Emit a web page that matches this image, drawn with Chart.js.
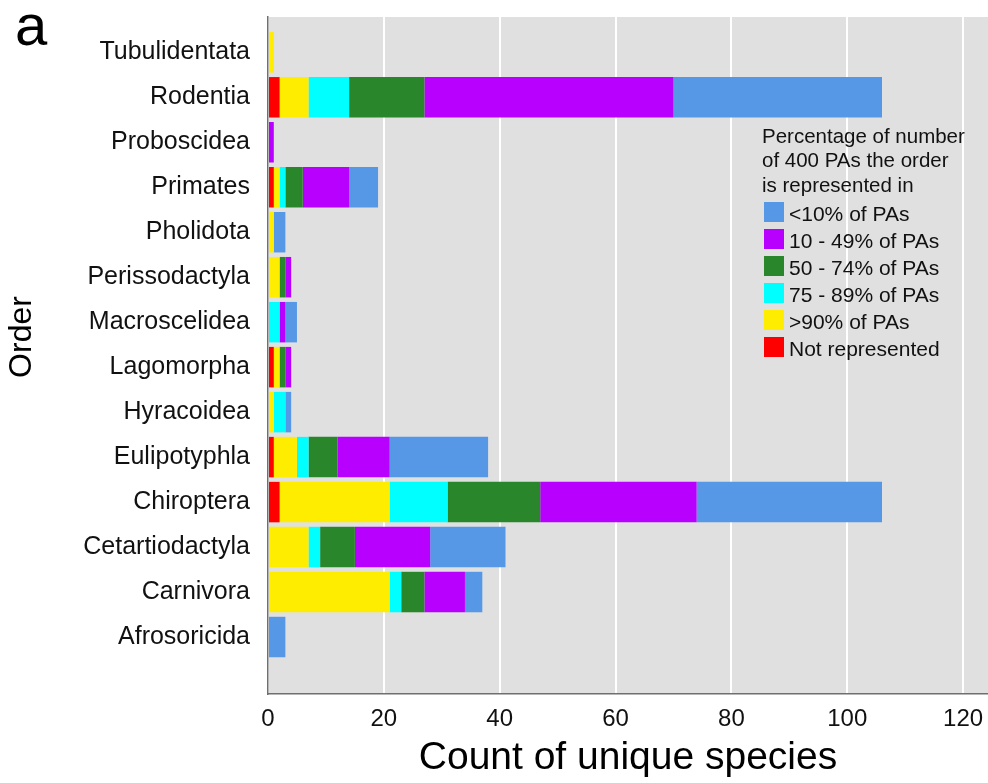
<!DOCTYPE html>
<html>
<head>
<meta charset="utf-8">
<script src="https://cdn.jsdelivr.net/npm/chart.js@4/dist/chart.umd.min.js"></script>
<style>
  html, body { margin: 0; padding: 0; background: #ffffff; }
  canvas { display: block; }
</style>
</head>
<body>
<canvas id="chart" width="988" height="783"></canvas>
<script>
// Mammal orders, listed top to bottom
const orders = ['Tubulidentata', 'Rodentia', 'Proboscidea', 'Primates', 'Pholidota',
  'Perissodactyla', 'Macroscelidea', 'Lagomorpha', 'Hyracoidea', 'Eulipotyphla',
  'Chiroptera', 'Cetartiodactyla', 'Carnivora', 'Afrosoricida'];

// Species counts per order, by share of the 400 PAs where the order occurs
const notRepresented = [0, 2, 0, 1, 0, 0, 0, 1, 0, 1, 2, 0, 0, 0];
const over90 = [1, 5, 0, 1, 1, 2, 0, 1, 1, 4, 19, 7, 21, 0];
const pct75to89 = [0, 7, 0, 1, 0, 0, 2, 0, 2, 2, 10, 2, 2, 0];
const pct50to74 = [0, 13, 0, 3, 0, 1, 0, 1, 0, 5, 16, 6, 4, 0];
const pct10to49 = [0, 43, 1, 8, 0, 1, 1, 1, 0, 9, 27, 13, 7, 0];
const under10 = [0, 36, 0, 5, 2, 0, 2, 0, 1, 17, 32, 13, 3, 3];

// Stack order, from the axis outwards
const seriesLabels = ['Not represented', '>90% of PAs', '75 - 89% of PAs', '50 - 74% of PAs', '10 - 49% of PAs', '<10% of PAs'];
const seriesValues = [notRepresented, over90, pct75to89, pct50to74, pct10to49, under10];
const seriesColors = ['#ff0000', '#ffed00', '#00ffff', '#2a862a', '#b800ff', '#5698e6'];

const xTicks = [0, 20, 40, 60, 80, 100, 120];
const legendTitle = ['Percentage of number', 'of 400 PAs the order', 'is represented in'];
const panelLetter = 'a';
const xTitle = 'Count of unique species';
const yTitle = 'Order';

const FONT = "'Liberation Sans', Arial, sans-serif";
const n = orders.length;
// top row sits at the highest y position
const rowPos = i => n - 1 - i;

const datasets = seriesLabels.map((label, s) => ({
  label,
  data: seriesValues[s].map((v, i) => ({ x: v, y: rowPos(i) })),
  backgroundColor: seriesColors[s],
  borderWidth: 0,
  categoryPercentage: 1,
  barPercentage: 0.9
}));

const panelDecor = {
  id: 'panelDecor',
  beforeDraw(chart) {
    const { ctx, chartArea: a } = chart;
    ctx.save();
    ctx.fillStyle = '#e0e0e0';
    ctx.fillRect(a.left, a.top, a.right - a.left, a.bottom - a.top);
    ctx.restore();
  },
  afterDraw(chart) {
    const { ctx } = chart;
    ctx.save();
    // panel letter
    ctx.fillStyle = '#000';
    ctx.font = `58px ${FONT}`;
    ctx.textAlign = 'left';
    ctx.textBaseline = 'alphabetic';
    ctx.fillText(panelLetter, 15, 45);

    // y axis title
    ctx.save();
    ctx.translate(22, 337);
    ctx.rotate(-Math.PI / 2);
    ctx.font = `32px ${FONT}`;
    ctx.textAlign = 'center';
    ctx.textBaseline = 'middle';
    ctx.fillText(yTitle, 0, 0);
    ctx.restore();

    // legend
    ctx.fillStyle = '#111';
    ctx.font = `20.5px ${FONT}`;
    ctx.textBaseline = 'alphabetic';
    legendTitle.forEach((line, k) => ctx.fillText(line, 762, 143 + k * 24.3));
    const ds = chart.data.datasets.slice().reverse();
    ctx.font = `21px ${FONT}`;
    ds.forEach((d, k) => {
      const y = 202 + k * 27;
      ctx.fillStyle = d.backgroundColor;
      ctx.fillRect(764, y, 20, 20);
      ctx.fillStyle = '#111';
      ctx.fillText(d.label, 789, y + 18.5);
    });
    ctx.restore();
  }
};

new Chart(document.getElementById('chart'), {
  type: 'bar',
  data: { datasets },
  plugins: [panelDecor],
  options: {
    indexAxis: 'y',
    responsive: false,
    animation: false,
    devicePixelRatio: 1,
    layout: { padding: { top: 17, left: 0, right: 0, bottom: 0 } },
    plugins: {
      legend: { display: false },
      tooltip: { enabled: false }
    },
    scales: {
      x: {
        type: 'linear',
        position: 'bottom',
        stacked: true,
        min: 0,
        max: 124.3,
        offset: false,
        afterFit(s) { s.height = 89; s.paddingLeft = 0; s.paddingRight = 0; },
        afterBuildTicks(s) { s.ticks = xTicks.map(v => ({ value: v })); },
        ticks: {
          font: { family: FONT, size: 24 },
          color: '#111',
          padding: 11,
          maxRotation: 0
        },
        grid: { color: '#ffffff', lineWidth: 2, drawTicks: false, offset: false },
        border: { display: true, color: '#6f6f6f', width: 1.5 },
        title: {
          display: true,
          text: xTitle,
          font: { family: FONT, size: 39 },
          color: '#000',
          padding: { top: 0, bottom: 1 }
        }
      },
      y: {
        type: 'linear',
        stacked: true,
        min: -1.267,
        max: 13.785,
        offset: false,
        afterFit(s) { s.width = 268; s.paddingTop = 0; s.paddingBottom = 0; },
        afterBuildTicks(s) { s.ticks = orders.map((_, i) => ({ value: i })); },
        ticks: {
          font: { family: FONT, size: 25 },
          color: '#111',
          padding: 18,
          autoSkip: false,
          callback: v => orders[n - 1 - v]
        },
        grid: { display: false, drawTicks: false, offset: false },
        border: { display: true, color: '#6f6f6f', width: 1.5 }
      }
    }
  }
});
</script>
</body>
</html>
